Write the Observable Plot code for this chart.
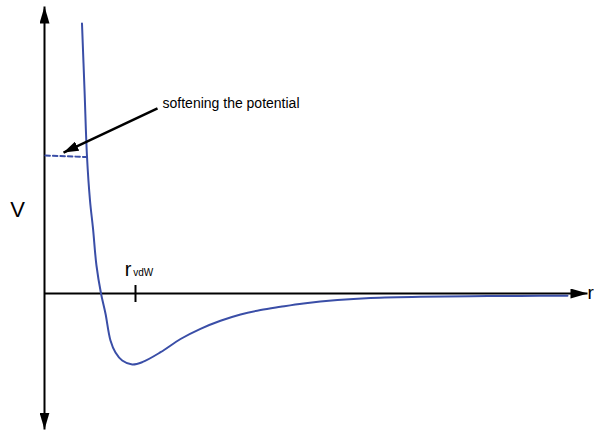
<!DOCTYPE html>
<html>
<head>
<meta charset="utf-8">
<script src="https://cdn.jsdelivr.net/npm/d3@7"></script>
<script src="https://cdn.jsdelivr.net/npm/@observablehq/plot@0.6"></script>
<style>
  html, body { margin: 0; padding: 0; background: #fff; }
  #chart svg { display: block; }
</style>
</head>
<body>
<div id="chart"></div>
<script>
// Lennard-Jones-like potential V(r), r in units of r_vdW
const rValues = [0.412, 0.440, 0.467, 0.500, 0.533, 0.571, 0.621, 0.670, 0.725, 0.780, 0.854, 0.964, 1.074, 1.275, 1.495, 1.714, 1.934, 2.154, 2.374, 2.593, 2.846, 3.220, 3.582, 4.132, 4.681, 5.231, 5.747];
const vValues = [3.857, 2.900, 1.957, 1.329, 0.929, 0.400, 0.000, -0.286, -0.671, -0.843, -0.957, -1.014, -0.981, -0.839, -0.650, -0.505, -0.390, -0.300, -0.236, -0.190, -0.142, -0.092, -0.063, -0.045, -0.039, -0.034, -0.033];

// softened potential (dotted plateau)
const softR = [0.01, 0.46];
const softV = [1.97, 1.95];

// axis extents
const xAxisR = [0, 5.967];
const yAxisV = [-1.943, 4.1];

// r_vdW tick
const rvdW = 1;
const tickV = [0.114, -0.129];

// annotation
const noteText = "softening the potential";
const notePos = [1.297, 2.657];
const noteArrowFrom = [1.242, 2.643];
const noteArrowTo = [0.209, 2.014];

const curve = rValues.map((r, i) => ({r, v: vValues[i]}));
const soft = softR.map((r, i) => ({r, v: softV[i]}));

const font = "Liberation Sans, Arial, Helvetica, sans-serif";
const blue = "#3a4ea7";

function filledArrow(len, wid) {
  return (color) => {
    const m = d3.create("svg:marker")
      .attr("viewBox", `0 ${-wid / 2} ${len} ${wid}`)
      .attr("markerWidth", len)
      .attr("markerHeight", wid)
      .attr("markerUnits", "userSpaceOnUse")
      .attr("refX", len)
      .attr("refY", 0)
      .attr("orient", "auto-start-reverse")
      .attr("fill", color)
      .attr("stroke", "none");
    m.append("path").attr("d", `M0,${-wid / 2}L${len},0L0,${wid / 2}Z`);
    return m.node();
  };
}
const axisArrow = filledArrow(17, 10);
const noteArrow = filledArrow(15, 10);

const chart = Plot.plot({
  width: 594,
  height: 430,
  margin: 0,
  style: {background: "#fff", fontFamily: font, overflow: "visible"},
  x: {domain: [-44 / 91, 550 / 91], axis: null},
  y: {domain: [-137 / 70, 293 / 70], axis: null},
  marks: [
    // axes with arrowheads
    Plot.line([{r: 0, v: yAxisV[0]}, {r: 0, v: yAxisV[1]}], {
      x: "r", y: "v", stroke: "#000", strokeWidth: 2, strokeLinecap: "butt",
      markerStart: axisArrow, markerEnd: axisArrow
    }),
    Plot.line([{r: xAxisR[0], v: 0}, {r: xAxisR[1], v: 0}], {
      x: "r", y: "v", stroke: "#000", strokeWidth: 2, strokeLinecap: "butt",
      markerEnd: axisArrow
    }),
    // r_vdW tick
    Plot.ruleX([rvdW], {y1: tickV[0], y2: tickV[1], stroke: "#000", strokeWidth: 2}),
    // potential curve
    Plot.line(curve, {x: "r", y: "v", stroke: blue, strokeWidth: 2, curve: "catmull-rom"}),
    // softened plateau
    Plot.line(soft, {x: "r", y: "v", stroke: blue, strokeWidth: 2, strokeDasharray: "4.5,3"}),
    // annotation arrow
    Plot.link([0], {
      x1: () => noteArrowFrom[0], y1: () => noteArrowFrom[1],
      x2: () => noteArrowTo[0], y2: () => noteArrowTo[1],
      stroke: "#000", strokeWidth: 2.5, markerEnd: noteArrow
    }),
    Plot.text([noteText], {
      x: () => notePos[0], y: () => notePos[1], text: d => d,
      textAnchor: "start", lineAnchor: "bottom", fontSize: 14, fill: "#000", fontFamily: font
    }),
    // labels
    Plot.text(["V"], {
      x: () => 0, y: () => 1.1, text: d => d, dx: -27,
      textAnchor: "middle", lineAnchor: "bottom", fontSize: 22, fill: "#000", fontFamily: font
    }),
    Plot.text(["r"], {
      x: () => xAxisR[1], y: () => 0, text: d => d, dx: 0, dy: 5,
      textAnchor: "start", lineAnchor: "bottom", fontSize: 19, fill: "#000", fontFamily: font
    }),
    Plot.text(["r"], {
      x: () => rvdW, y: () => 0.257, text: d => d, dx: -7.5,
      textAnchor: "middle", lineAnchor: "bottom", fontSize: 20, fill: "#000", fontFamily: font
    }),
    Plot.text(["vdW"], {
      x: () => rvdW, y: () => 0.257, text: d => d, dx: -2.3,
      textAnchor: "start", lineAnchor: "bottom", fontSize: 10, fill: "#000", fontFamily: font
    })
  ]
});
document.getElementById("chart").appendChild(chart);
</script>
</body>
</html>
